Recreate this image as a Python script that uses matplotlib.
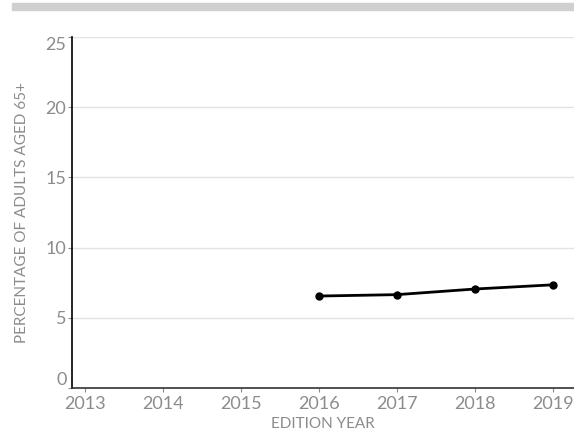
import matplotlib
matplotlib.use("Agg")
import matplotlib.pyplot as plt
from matplotlib.patches import Rectangle

plt.rcParams['font.family'] = ['Lato', 'DejaVu Sans']

years = [2016, 2017, 2018, 2019]
values = [6.55, 6.65, 7.05, 7.35]
xticks = [2013, 2014, 2015, 2016, 2017, 2018, 2019]
yticks = [0, 5, 10, 15, 20, 25]

W, H = 574, 433
fig = plt.figure(figsize=(W / 100, H / 100), dpi=100)
ax = fig.add_axes([72 / W, 1 - 388 / H, (574 - 72) / W, (388 - 37) / H])

# grey strip at the top
fig.patches.append(Rectangle((12 / W, 1 - 10 / H), 1 - 12 / W, 7 / H,
                             transform=fig.transFigure, color='#d0d0d0', zorder=0))

ax.plot(years, values, color='black', lw=2, marker='o', ms=5, zorder=3)

ax.set_xlim(2012.833, 2019.27)
ax.set_ylim(0, 25)
ax.set_xticks(xticks)
ax.set_yticks(yticks)
ax.set_xticklabels([str(x) for x in xticks])
ax.set_yticklabels([str(y) for y in yticks])

ax.grid(axis='y', color='#e3e3e3', lw=1)
ax.set_axisbelow(True)
for s in ['top', 'right']:
    ax.spines[s].set_visible(False)
ax.spines['left'].set_color('black')
ax.spines['bottom'].set_color('#333333')
ax.spines['left'].set_linewidth(1.2)
ax.spines['bottom'].set_linewidth(1.2)

ax.tick_params(axis='both', colors='#8c8c8c', labelsize=13, length=3, width=0.8)
ax.tick_params(axis='y', pad=1)
ax.tick_params(axis='x', pad=3)
ylabs = ax.get_yticklabels()
ylabs[0].set_va('bottom')
ylabs[-1].set_va('top')

ax.set_xlabel('EDITION YEAR', color='#8c8c8c', fontsize=11, labelpad=3)
ax.set_ylabel('PERCENTAGE OF ADULTS AGED 65+', color='#8c8c8c', fontsize=11,
              labelpad=12)

fig.savefig('out.png', dpi=100)
